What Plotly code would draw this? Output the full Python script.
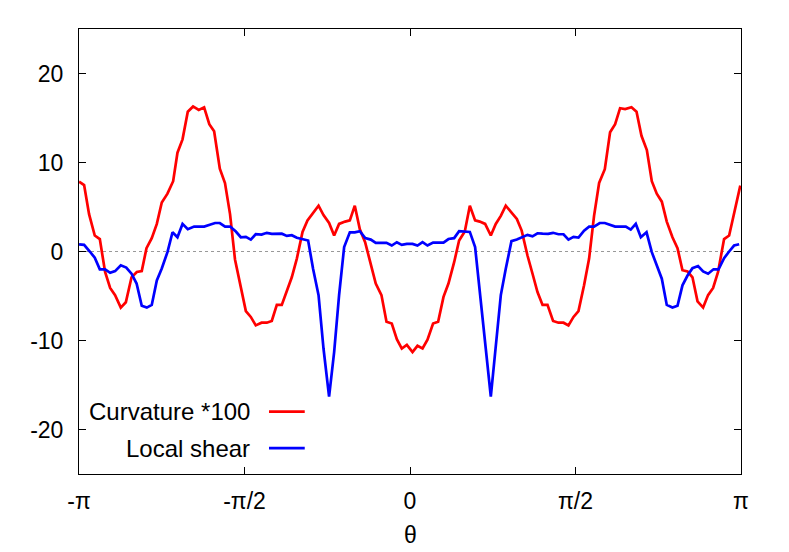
import math
import plotly.graph_objects as go

# values
theta_curv = [-3.141, -3.093, -3.046, -2.992, -2.944, -2.894, -2.846, -2.799, -2.745, -2.697,
              -2.643, -2.593, -2.546, -2.501, -2.451, -2.403, -2.356, -2.302, -2.248, -2.207,
              -2.159, -2.109, -2.059, -2.005, -1.954, -1.905, -1.859, -1.805, -1.756, -1.708,
              -1.661, -1.606, -1.558, -1.511, -1.464, -1.409, -1.359, -1.312, -1.264, -1.217,
              -1.169, -1.122, -1.074, -1.020, -0.973, -0.920, -0.868, -0.821, -0.768, -0.720,
              -0.673, -0.616, -0.571, -0.524, -0.476, -0.426, -0.372, -0.325, -0.271, -0.223,
              -0.173, -0.125, -0.078, -0.030, 0.024, 0.071, 0.119, 0.166, 0.219, 0.267,
              0.318, 0.365, 0.419, 0.466, 0.520, 0.568, 0.618, 0.662, 0.713, 0.767,
              0.814, 0.862, 0.909, 0.966, 1.014, 1.060, 1.115, 1.163, 1.210, 1.258,
              1.305, 1.358, 1.409, 1.457, 1.504, 1.552, 1.599, 1.652, 1.700, 1.747,
              1.795, 1.849, 1.899, 1.947, 1.994, 2.042, 2.102, 2.150, 2.197, 2.248,
              2.295, 2.342, 2.390, 2.437, 2.491, 2.539, 2.586, 2.634, 2.681, 2.729,
              2.782, 2.829, 2.877, 2.924, 2.981, 3.029, 3.076, 3.135]
curvature = [7.84, 7.46, 4.2, 1.8, 1.4, -2.3, -4.1, -4.9, -6.3, -5.7,
             -2.9, -2.3, -2.2, 0.37, 1.5, 3.1, 5.5, 6.5, 7.9, 11.1,
             12.6, 15.7, 16.3, 15.9, 16.2, 14.3, 13.5, 9.3, 7.7, 4.2,
             -0.9, -3.9, -6.7, -7.35, -8.3, -8.0, -8.0, -7.8, -6.0, -6.0,
             -4.55, -2.9, -0.8, 2.2, 3.5, 4.3, 5.15, 4.1, 3.2, 1.8,
             3.1, 3.36, 3.5, 5.15, 2.5, 1.04, -1.4, -3.6, -4.9, -7.9,
             -8.1, -9.85, -10.9, -10.5, -11.3, -10.6, -10.9, -9.9, -8.1, -7.9,
             -5.1, -3.6, -1.2, 1.23, 2.24, 5.15, 3.5, 3.36, 3.1, 1.8,
             3.1, 4.0, 5.15, 4.3, 3.66, 2.35, -0.45, -2.5, -4.55, -6.0,
             -6.0, -7.8, -8.0, -8.0, -8.3, -7.35, -6.7, -3.8, -0.8, 4.0,
             7.7, 9.25, 13.4, 14.3, 16.1, 16.0, 16.2, 15.7, 13.0, 11.4,
             7.9, 6.5, 5.6, 3.36, 1.6, 0.37, -2.1, -2.24, -2.9, -5.6,
             -6.3, -4.9, -4.1, -2.3, 1.4, 1.8, 4.2, 7.4]

theta_shear = [-3.141, -3.093, -3.039, -2.992, -2.944, -2.894, -2.846, -2.799, -2.745, -2.693,
               -2.643, -2.595, -2.546, -2.498, -2.451, -2.403, -2.356, -2.302, -2.254, -2.207,
               -2.159, -2.109, -2.049, -2.002, -1.954, -1.900, -1.850, -1.805, -1.755, -1.707,
               -1.653, -1.606, -1.558, -1.511, -1.464, -1.409, -1.359, -1.312, -1.264, -1.217,
               -1.169, -1.122, -1.074, -1.015, -0.967, -0.920, -0.868, -0.821, -0.768, -0.720,
               -0.673, -0.625, -0.571, -0.524, -0.476, -0.425, -0.372, -0.325, -0.271, -0.223,
               -0.173, -0.125, -0.078, -0.030, 0.024, 0.071, 0.119, 0.166, 0.219, 0.267,
               0.318, 0.365, 0.419, 0.466, 0.520, 0.568, 0.618, 0.672, 0.719, 0.767,
               0.814, 0.862, 0.909, 0.963, 1.014, 1.061, 1.115, 1.163, 1.210, 1.258,
               1.311, 1.358, 1.409, 1.457, 1.504, 1.552, 1.599, 1.652, 1.700, 1.747,
               1.801, 1.849, 1.899, 1.947, 1.994, 2.048, 2.095, 2.143, 2.191, 2.245,
               2.295, 2.342, 2.390, 2.437, 2.491, 2.539, 2.586, 2.634, 2.681, 2.734,
               2.782, 2.829, 2.881, 2.928, 2.981, 3.029, 3.076, 3.124]
shear = [0.8, 0.75, 0.0, -0.7, -2.0, -2.0, -2.4, -2.2, -1.55, -1.8,
         -2.5, -3.6, -6.1, -6.3, -6.0, -3.25, -1.9, -0.07, 2.16, 1.6,
         3.1, 2.5, 2.8, 2.8, 2.8, 3.0, 3.2, 3.2, 2.8, 2.8,
         2.24, 1.6, 1.64, 1.34, 1.94, 1.9, 2.1, 1.98, 2.0, 2.0,
         1.75, 1.83, 1.55, 1.34, 1.23, -1.94, -4.9, -10.9, -16.3, -11.3,
         -4.9, 0.5, 2.16, 2.16, 2.28, 1.5, 1.34, 0.97, 0.93, 0.97,
         0.67, 1.04, 0.75, 0.86, 0.86, 0.67, 1.04, 0.67, 1.0, 0.97,
         1.0, 1.4, 1.5, 2.28, 2.2, 2.2, 0.5, -5.3, -10.9, -16.3,
         -10.9, -4.9, -1.94, 1.16, 1.34, 1.6, 1.87, 1.7, 2.05, 2.0,
         1.98, 2.1, 1.94, 1.94, 1.34, 1.64, 1.57, 2.35, 2.8, 2.8,
         3.2, 3.2, 3.0, 2.8, 2.8, 2.8, 2.46, 3.1, 1.6, 2.16,
         -0.07, -1.57, -3.06, -6.0, -6.3, -6.1, -3.8, -2.7, -1.87, -1.64,
         -2.24, -2.5, -2.0, -2.0, -0.75, 0.0, 0.67, 0.82]

x_ticks = [-math.pi, -math.pi / 2, 0, math.pi / 2, math.pi]
x_labels = ['-π', '-π/2', '0', 'π/2', 'π']
y_ticks = [-20, -10, 0, 10, 20]
y_labels = ['-20', '-10', '0', '10', '20']

font = 'Liberation Sans, Arial, sans-serif'

fig = go.Figure()
fig.add_trace(go.Scatter(x=theta_curv, y=curvature, mode='lines', name='Curvature *100',
                         line=dict(color='#ff0000', width=2.7)))
fig.add_trace(go.Scatter(x=theta_shear, y=shear, mode='lines', name='Local shear',
                         line=dict(color='#0000ff', width=2.7)))

# dotted zero line
fig.add_shape(type='line', xref='paper', yref='y', x0=0, x1=1, y0=0, y1=0,
              line=dict(color='#999999', width=1, dash='dot'), layer='below')

# gnuplot style key: text right aligned, line sample on the right
key = [('Curvature *100', '#ff0000', 0.140), ('Local shear', '#0000ff', 0.058)]
for label, color, yk in key:
    fig.add_annotation(x=0.262, y=yk, xref='paper', yref='paper', text=label,
                       showarrow=False, xanchor='right', yanchor='middle',
                       font=dict(size=24, color='black', family=font))
    fig.add_shape(type='line', xref='paper', yref='paper', x0=0.287, x1=0.341,
                  y0=yk, y1=yk, line=dict(color=color, width=2.7))

# x axis title
fig.add_annotation(x=0.5, y=-0.137, xref='paper', yref='paper', text='θ',
                   showarrow=False, xanchor='center', yanchor='middle',
                   font=dict(size=23, color='black', family=font))

# page body has an 8px margin, so the figure is 8px smaller than the window
fig.update_layout(
    width=781, height=544,
    margin=dict(l=71, r=48, t=21, b=78, autoexpand=False),
    paper_bgcolor='white', plot_bgcolor='white',
    showlegend=False,
    font=dict(family=font, size=23, color='black'),
)
fig.update_xaxes(range=[-math.pi, math.pi], tickvals=x_ticks, ticktext=x_labels,
                 ticks='inside', ticklen=7, tickcolor='black', mirror='allticks',
                 showline=True, linecolor='black', linewidth=1, showgrid=False,
                 zeroline=False, ticklabelstandoff=6, automargin=False)
fig.update_yaxes(range=[-25, 25], tickvals=y_ticks, ticktext=y_labels,
                 ticks='inside', ticklen=7, tickcolor='black', mirror='allticks',
                 showline=True, linecolor='black', linewidth=1, showgrid=False,
                 zeroline=False, ticklabelstandoff=10, automargin=False)

fig.write_html('out.html')
